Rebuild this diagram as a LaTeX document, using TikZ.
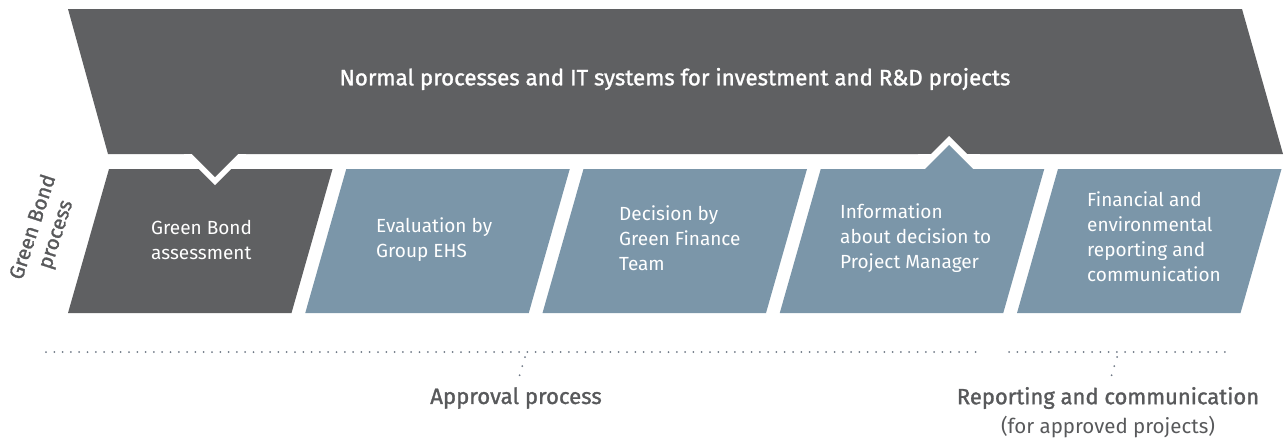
\documentclass[tikz,border=0pt]{standalone}
\usepackage{fontspec}
\setmainfont{Fira Sans}
\newfontfamily\firamed[FakeBold = 1.3]{Fira Sans}
\definecolor{darkgrey}{HTML}{5F6062}
\definecolor{steel}{HTML}{7B96A9}
\definecolor{labelgrey}{HTML}{58595B}
\definecolor{dotgrey}{HTML}{6E7885}
\tikzset{
    boxtext/.style = {anchor = west, align = left, inner sep = 0pt, text = white, font = \fontsize{19}{25}\selectfont},
    sublabel/.style = {text = labelgrey, font = \fontsize{20.5}{29}\selectfont},
    dotline/.style = {dotgrey, line width = 2pt, line cap = round, dash pattern = on 0pt off 8.3pt}
}
\begin{document}
\begin{tikzpicture}[x = 1pt, y = -1pt]
        \useasboundingbox (0, 0) rectangle (1285, 440);
        % top banner with notch pointing down
        \fill[darkgrey] (68, 9) -- (1242, 9) -- (1283, 154) -- (238, 154) -- (215, 177) -- (192, 154) -- (108, 154) -- cycle;
        \node[text = white, font = \fontsize{22.3}{26}\firamed] (normal) at (675, 79) {Normal processes and IT systems for investment and R\&D projects};
        % white gap around the notch
        \fill[white] (184, 154) -- (246, 154) -- (246, 169) -- (215, 200) -- (184, 169) -- cycle;
        \fill[darkgrey] (192, 154) -- (238, 154) -- (215, 177) -- cycle;
        % the five process steps
        \fill[darkgrey] (109, 169) -- (332.5, 169) -- (291.5, 313) -- (68, 313) -- cycle;
        \fill[darkgrey] (192, 169) -- (238, 169) -- (215, 177) -- cycle;
        \fill[white] (199, 169) -- (231, 169) -- (215, 185) -- cycle;
        \fill[darkgrey] (207, 169) -- (223, 169) -- (215, 177) -- cycle;
        \fill[steel] (346.25, 169) -- (569.75, 169) -- (528.75, 313) -- (305.25, 313) -- cycle;
        \fill[steel] (583.5, 169) -- (807, 169) -- (766, 313) -- (542.5, 313) -- cycle;
        \fill[white] (918, 154) -- (980, 154) -- (980, 169) -- (918, 169) -- cycle;
        \fill[white] (949, 136) -- (974, 161) -- (924, 161) -- cycle;
        \fill[steel] (820.75, 169) -- (925, 169) -- (949, 145) -- (973, 169) -- (1044.25, 169) -- (1003.25, 313) -- (779.75, 313) -- cycle;
        \fill[steel] (1058, 169) -- (1281.5, 169) -- (1240.5, 313) -- (1017, 313) -- cycle;
        \node[boxtext] (assess) at (151, 240) {Green Bond\\assessment};
        \node[boxtext] (eval) at (376, 240) {Evaluation by\\Group EHS};
        \node[boxtext] (decide) at (619, 238) {Decision by\\Green Finance\\Team};
        \node[boxtext] (inform) at (840, 238) {Information\\about decision to\\Project Manager};
        \node[boxtext] (report) at (1087, 237) {Financial and\\environmental\\reporting and\\communication};
        \node[rotate = 72, align = center, inner sep = 0pt, text = labelgrey, font = \fontsize{20.5}{24}\firamed] (gbprocess) at (45, 231) {Green Bond\\process};
        % bottom brackets
        \coordinate (appL) at (46, 352);
        \coordinate (appR) at (978, 352);
        \coordinate (repL) at (1009, 352);
        \coordinate (repR) at (1233, 352);
        \draw[dotline] (appL) -- (appR);
        \draw[dotline] (repL) -- (repR);
        \coordinate (appTop) at (525, 357);
        \coordinate (appBot) at (519, 377);
        \coordinate (repTop) at (1117, 357);
        \coordinate (repBot) at (1111, 377);
        \draw[dotgrey, line width = 2pt, line cap = round, dash pattern = on 0pt off 9.5pt] (appTop) -- (appBot);
        \draw[dotgrey, line width = 2pt, line cap = round, dash pattern = on 0pt off 9.5pt] (repTop) -- (repBot);
        \node[sublabel, font = \fontsize{22.2}{29}\firamed] (approval) at (516, 398) {Approval process};
        \node[sublabel, font = \fontsize{22}{29}\firamed] (reporting) at (1108, 398) {Reporting and communication};
        \node[sublabel] (approved) at (1108, 427) {(for approved projects)};
    \end{tikzpicture}
\end{document}
